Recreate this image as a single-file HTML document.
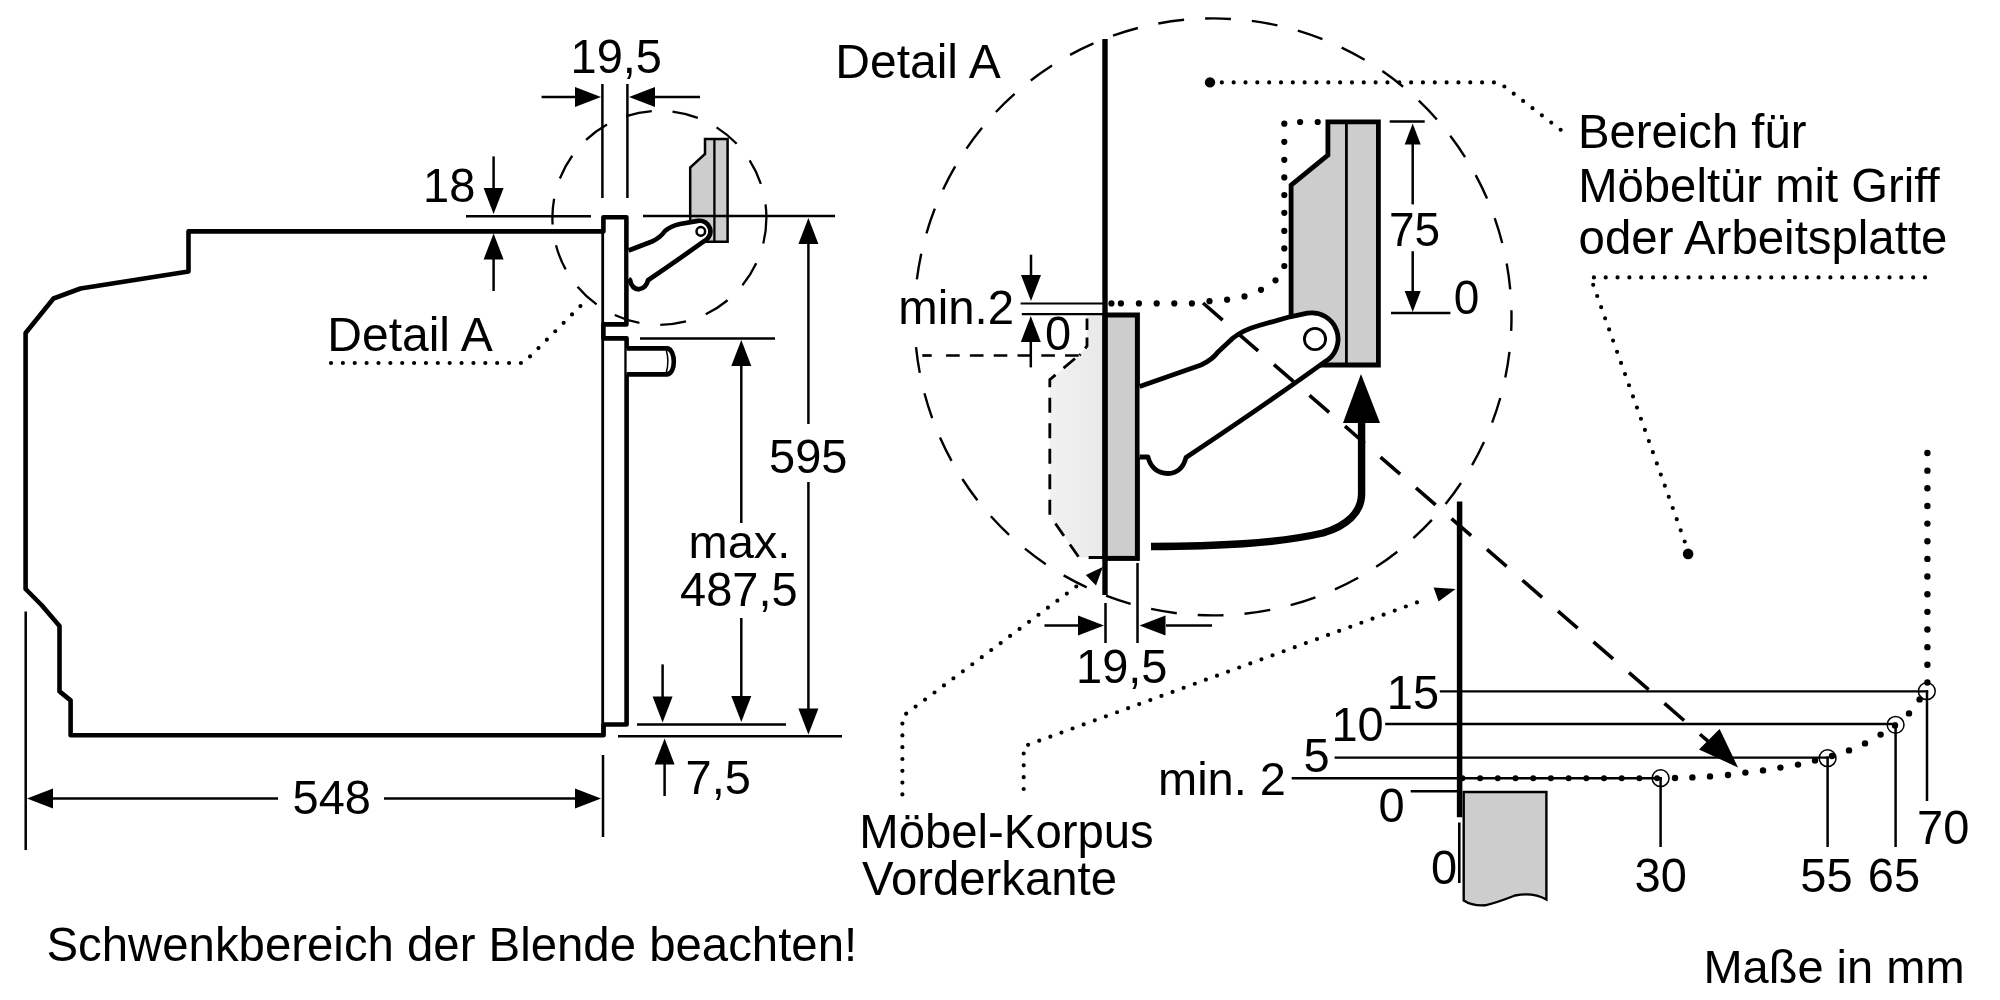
<!DOCTYPE html>
<html lang="de"><head><meta charset="utf-8"><title>Einbauskizze</title>
<style>html,body{margin:0;padding:0;background:#fff}svg{display:block;will-change:transform;transform:translateZ(0)}text{font-family:"Liberation Sans",Arial,sans-serif;fill:#000}</style>
</head><body>
<svg width="2000" height="1000" viewBox="0 0 2000 1000">
<rect width="2000" height="1000" fill="#fff"/>
<line x1="602.7" y1="233" x2="602.7" y2="735" stroke="#000" stroke-width="2.8" />
<path d="M603.4,231.4 L188.5,231.4 L188.5,271.5 L80.5,288.5 L53.5,298.5 L25.6,333 L25.6,589 L41.5,605 L59.5,626 L59.5,691.4 L70.6,700.4 L70.6,735.2 L603.6,735.2 L603.6,724.5 L626.6,724.5 L626.6,338.4 L603.4,338.4 L603.4,324.4 L626.4,324.4 L626.4,217.3 L603.4,217.3 Z" fill="none" stroke="#000" stroke-width="4.6" stroke-linejoin="round"/>
<path d="M626.6,348.4 L667,348.4 C672,349 673.8,356 673.8,361.4 C673.8,367 672,374 667,374.4 L626.6,374.4" fill="#fff" stroke="#000" stroke-width="4.6" stroke-linejoin="round"/>
<path d="M666.3,350.5 Q669.5,361.4 666.3,372.3" fill="none" stroke="#000" stroke-width="1.5" />
<circle cx="659.4" cy="217.8" r="107" fill="none" stroke="#000" stroke-width="2.3" stroke-dasharray="26 21"/>
<path d="M705,139 L727.6,139 L727.6,241.8 L690.2,241.8 L690.2,167.5 L705,154 Z" fill="#cdcdcd" stroke="#000" stroke-width="2.5" />
<line x1="714.4" y1="139" x2="714.4" y2="242" stroke="#000" stroke-width="2.3" />
<path d="M628.6,250.5 L652,241.5 Q660,238 665,231 Q671,226 680,224 L698,220.9 A10.6,10.6 0 0 1 704.8,240.7 Q678,259.8 648,280.3 Q646,288 638.8,289.3 Q631.8,289 630,280 L628.6,279" fill="#fff" stroke="#000" stroke-width="4.7" stroke-linejoin="round"/>
<circle cx="700.8" cy="231.4" r="4.3" fill="#fff" stroke="#000" stroke-width="2.5"/>
<line x1="602.4" y1="84" x2="602.4" y2="198" stroke="#000" stroke-width="2.5" />
<line x1="627.4" y1="84" x2="627.4" y2="198" stroke="#000" stroke-width="2.5" />
<line x1="541.6" y1="97" x2="576" y2="97" stroke="#000" stroke-width="2.5" />
<polygon points="601.0,97.0 575.0,107.0 575.0,87.0" fill="#000"/>
<line x1="654" y1="97" x2="700" y2="97" stroke="#000" stroke-width="2.5" />
<polygon points="629.0,97.0 655.0,87.0 655.0,107.0" fill="#000"/>
<text transform="translate(570.5,73) scale(1,1.04)" font-size="47">19,5</text>
<line x1="466" y1="216.2" x2="591" y2="216.2" stroke="#000" stroke-width="2.5" />
<line x1="493.6" y1="156.4" x2="493.6" y2="190" stroke="#000" stroke-width="2.5" />
<polygon points="493.6,214.0 483.6,188.0 503.6,188.0" fill="#000"/>
<line x1="493.6" y1="258" x2="493.6" y2="291" stroke="#000" stroke-width="2.5" />
<polygon points="493.6,233.5 503.6,259.5 483.6,259.5" fill="#000"/>
<text transform="translate(423,202) scale(1,1.04)" font-size="47">18</text>
<text x="327.3" y="351" font-size="48" text-anchor="start" >Detail A</text>
<path d="M331,363 L523.5,363 L581.5,305" fill="none" stroke="#000" stroke-width="4.2" stroke-linecap="round" stroke-dasharray="0 11.87" />
<line x1="643" y1="216" x2="835" y2="216" stroke="#000" stroke-width="2.5" />
<line x1="618" y1="736.2" x2="842" y2="736.2" stroke="#000" stroke-width="2.5" />
<line x1="808.4" y1="243" x2="808.4" y2="424" stroke="#000" stroke-width="2.5" />
<polygon points="808.4,218.0 818.4,244.0 798.4,244.0" fill="#000"/>
<line x1="808.4" y1="482" x2="808.4" y2="709" stroke="#000" stroke-width="2.5" />
<polygon points="808.4,734.5 798.4,708.5 818.4,708.5" fill="#000"/>
<text transform="translate(769,472.7) scale(1,1.04)" font-size="47">595</text>
<line x1="640" y1="338.4" x2="775" y2="338.4" stroke="#000" stroke-width="2.5" />
<line x1="637" y1="724.4" x2="786" y2="724.4" stroke="#000" stroke-width="2.5" />
<line x1="741.3" y1="366" x2="741.3" y2="523" stroke="#000" stroke-width="2.5" />
<polygon points="741.3,340.0 751.3,366.0 731.3,366.0" fill="#000"/>
<line x1="741.3" y1="618" x2="741.3" y2="696" stroke="#000" stroke-width="2.5" />
<polygon points="741.3,722.0 731.3,696.0 751.3,696.0" fill="#000"/>
<text x="688.5" y="558" font-size="47" text-anchor="start" >max.</text>
<text transform="translate(680,605.6) scale(1,1.04)" font-size="47">487,5</text>
<line x1="662.6" y1="664.4" x2="662.6" y2="697" stroke="#000" stroke-width="2.5" />
<polygon points="662.6,722.5 652.6,696.5 672.6,696.5" fill="#000"/>
<line x1="664.6" y1="764" x2="664.6" y2="796" stroke="#000" stroke-width="2.5" />
<polygon points="664.6,738.5 674.6,764.5 654.6,764.5" fill="#000"/>
<text transform="translate(685.5,794) scale(1,1.04)" font-size="47">7,5</text>
<line x1="25.7" y1="611.5" x2="25.7" y2="850" stroke="#000" stroke-width="2.5" />
<line x1="603" y1="755" x2="603" y2="837" stroke="#000" stroke-width="2.5" />
<line x1="52" y1="798.5" x2="278" y2="798.5" stroke="#000" stroke-width="2.5" />
<polygon points="27.0,798.5 53.0,788.5 53.0,808.5" fill="#000"/>
<line x1="384" y1="798.5" x2="576" y2="798.5" stroke="#000" stroke-width="2.5" />
<polygon points="601.0,798.5 575.0,808.5 575.0,788.5" fill="#000"/>
<text transform="translate(292.5,814.4) scale(1,1.04)" font-size="47">548</text>
<text x="46.5" y="961.3" font-size="47.35" text-anchor="start" >Schwenkbereich der Blende beachten!</text>
<text x="835.3" y="77.6" font-size="48" text-anchor="start" >Detail A</text>
<circle cx="1213" cy="316.9" r="298.5" fill="none" stroke="#000" stroke-width="2.4" stroke-dasharray="26 21" stroke-dashoffset="11.9"/>
<defs><linearGradient id="lg" x1="0" x2="1" y1="0" y2="0"><stop offset="0" stop-color="#f1f1f1"/><stop offset="1" stop-color="#e9e9e9"/></linearGradient></defs>
<path d="M1087,315 L1105,315 L1105,557.5 L1079,557.5 L1049.8,515.5 L1049.8,379.7 L1075,358.5 L1087,347 Z" fill="url(#lg)"/>
<path d="M1087,318.4 L1087,346 L1079.5,355.3" fill="none" stroke="#000" stroke-width="2.8" stroke-dasharray="11.5 7.5"/>
<path d="M1075,358.5 L1049.8,379.7 L1049.8,515.5 L1079,557.5 L1103,557.5" fill="none" stroke="#000" stroke-width="2.8" stroke-dasharray="15 10.5"/>
<line x1="922.3" y1="355.5" x2="931.7" y2="355.5" stroke="#000" stroke-width="2.7" />
<line x1="946.1" y1="355.5" x2="1079" y2="355.5" stroke="#000" stroke-width="2.7" stroke-dasharray="13.6 10.2"/>
<rect x="1105" y="315" width="32.4" height="243.4" fill="#cdcdcd" stroke="#000" stroke-width="5"/>
<line x1="1105" y1="39" x2="1105" y2="595" stroke="#000" stroke-width="5.4" />
<line x1="1020.6" y1="303.5" x2="1104" y2="303.5" stroke="#000" stroke-width="2.2" />
<line x1="1021.8" y1="314.2" x2="1104" y2="314.2" stroke="#000" stroke-width="2.2" />
<line x1="1031" y1="254.7" x2="1031" y2="276" stroke="#000" stroke-width="2.5" />
<polygon points="1031.0,301.0 1021.0,275.0 1041.0,275.0" fill="#000"/>
<line x1="1030.8" y1="340" x2="1030.8" y2="367.4" stroke="#000" stroke-width="2.5" />
<polygon points="1030.8,316.0 1040.8,342.0 1020.8,342.0" fill="#000"/>
<rect x="897" y="286" width="119" height="44" fill="#fff"/>
<text x="898.3" y="324" font-size="47.3" text-anchor="start" >min.2</text>
<text transform="translate(1045,350.4) scale(1,1.04)" font-size="47">0</text>
<circle cx="1111.4" cy="303.4" r="3.1" fill="#000"/>
<circle cx="1120.9" cy="303.4" r="3.1" fill="#000"/>
<circle cx="1138.9" cy="303.4" r="3.1" fill="#000"/>
<circle cx="1156.7" cy="303.4" r="3.1" fill="#000"/>
<circle cx="1174.3" cy="303.4" r="3.1" fill="#000"/>
<circle cx="1191.9" cy="303.4" r="3.1" fill="#000"/>
<circle cx="1209.5" cy="301.2" r="3.1" fill="#000"/>
<circle cx="1227.1" cy="299.7" r="3.1" fill="#000"/>
<circle cx="1244.5" cy="296.4" r="3.1" fill="#000"/>
<circle cx="1261" cy="289.8" r="3.1" fill="#000"/>
<circle cx="1275.5" cy="280.3" r="3.1" fill="#000"/>
<circle cx="1284.3" cy="266" r="3.1" fill="#000"/>
<circle cx="1284.3" cy="248.4" r="3.1" fill="#000"/>
<circle cx="1284.3" cy="230.9" r="3.1" fill="#000"/>
<circle cx="1284.3" cy="212.8" r="3.1" fill="#000"/>
<circle cx="1284.3" cy="195" r="3.1" fill="#000"/>
<circle cx="1284.3" cy="177.4" r="3.1" fill="#000"/>
<circle cx="1284.3" cy="159.8" r="3.1" fill="#000"/>
<circle cx="1284.3" cy="141.8" r="3.1" fill="#000"/>
<circle cx="1284.3" cy="123.7" r="3.1" fill="#000"/>
<circle cx="1300.1" cy="122" r="3.1" fill="#000"/>
<circle cx="1317.7" cy="122" r="3.1" fill="#000"/>
<path d="M1327.9,121.8 L1378.4,121.8 L1378.4,365 L1320,365 L1291.1,340 L1291.1,185.2 L1327.9,155 Z" fill="#cdcdcd" stroke="#000" stroke-width="4.8" />
<line x1="1346.4" y1="121" x2="1346.4" y2="365" stroke="#000" stroke-width="2.8" />
<line x1="1389.7" y1="121.6" x2="1424.7" y2="121.6" stroke="#000" stroke-width="2.5" />
<line x1="1391" y1="312.9" x2="1450.4" y2="312.9" stroke="#000" stroke-width="2.5" />
<line x1="1412.7" y1="144" x2="1412.7" y2="204.4" stroke="#000" stroke-width="2.5" />
<polygon points="1412.7,123.5 1420.7,144.5 1404.7,144.5" fill="#000"/>
<line x1="1412.7" y1="251.2" x2="1412.7" y2="293" stroke="#000" stroke-width="2.5" />
<polygon points="1412.7,312.0 1404.7,291.0 1420.7,291.0" fill="#000"/>
<text transform="translate(1389,246.4) scale(1,1.04)" font-size="46">75</text>
<text transform="translate(1453.7,314.3) scale(1,1.04)" font-size="46">0</text>
<path d="M1139.6,386.5 L1201,365 Q1212,360 1218,352 L1233,338 Q1243,330 1259,325.5 L1290,316.8 L1307.5,313.2 A26.2,26.2 0 0 1 1324.3,362.1 Q1265,405 1186,457.5 Q1182,473 1168,473.5 Q1152,473 1148,457 L1139.6,457" fill="#fff" stroke="#000" stroke-width="4.8" stroke-linejoin="round"/>
<circle cx="1315" cy="339" r="10.6" fill="#fff" stroke="#000" stroke-width="2.8"/>
<path d="M1151,546.5 C1215,546.3 1275,544 1323,533 C1347,526 1361.6,512 1361.6,494 L1361.6,420" fill="none" stroke="#000" stroke-width="7.4" />
<polygon points="1361,374 1343,423 1380,423" fill="#000"/>
<line x1="1105.5" y1="603" x2="1105.5" y2="643" stroke="#000" stroke-width="2.5" />
<line x1="1137.5" y1="563" x2="1137.5" y2="643" stroke="#000" stroke-width="2.5" />
<line x1="1044.5" y1="625.5" x2="1080" y2="625.5" stroke="#000" stroke-width="2.5" />
<polygon points="1104.0,625.5 1078.0,635.5 1078.0,615.5" fill="#000"/>
<line x1="1166" y1="625.5" x2="1212" y2="625.5" stroke="#000" stroke-width="2.5" />
<polygon points="1139.5,625.5 1165.5,615.5 1165.5,635.5" fill="#000"/>
<text transform="translate(1076,683.2) scale(1,1.04)" font-size="47">19,5</text>
<text x="859.3" y="848" font-size="47.3" text-anchor="start" >Möbel-Korpus</text>
<text x="862" y="894.7" font-size="47.3" text-anchor="start" >Vorderkante</text>
<path d="M902.4,794.4 L902.4,716.5 L1077.1,585.9" fill="none" stroke="#000" stroke-width="4.2" stroke-linecap="round" stroke-dasharray="0 11.8" />
<polygon points="1102.8,567 1085.8,575.1 1096,585.4" fill="#000"/>
<path d="M1023.7,789 L1023.7,746.4 L1427.4,598.6" fill="none" stroke="#000" stroke-width="4.2" stroke-linecap="round" stroke-dasharray="0 11.83" />
<polygon points="1455.6,589 1433.6,587.6 1438.6,601.6" fill="#000"/>
<line x1="1203" y1="303" x2="1712" y2="744.7" stroke="#000" stroke-width="3.6" stroke-dasharray="26 21"/>
<polygon points="1738,767.4 1699,749.6 1719.6,729" fill="#000"/>
<path d="M1210,82.4 L1499,82.4 L1561.5,130.4" fill="none" stroke="#000" stroke-width="4.2" stroke-linecap="round" stroke-dasharray="0 11.83" />
<circle cx="1210" cy="82.4" r="5.2" fill="#000"/>
<text x="1578" y="148.4" font-size="47.25" text-anchor="start" >Bereich für</text>
<text x="1578.2" y="201.6" font-size="47.25" text-anchor="start" >Möbeltür mit Griff</text>
<text x="1578.6" y="254.4" font-size="47.4" text-anchor="start" >oder Arbeitsplatte</text>
<path d="M1925,277.4 L1593.9,277.4" fill="none" stroke="#000" stroke-width="4.2" stroke-linecap="round" stroke-dasharray="0 11.825" />
<path d="M1684.7,541.5 L1593.2,284.8" fill="none" stroke="#000" stroke-width="4.2" stroke-linecap="round" stroke-dasharray="0 11.848" />
<circle cx="1688.1" cy="553.9" r="5.3" fill="#000"/>
<circle cx="1927.4" cy="453.0" r="3.2" fill="#000"/>
<circle cx="1927.4" cy="470.65" r="3.2" fill="#000"/>
<circle cx="1927.4" cy="488.3" r="3.2" fill="#000"/>
<circle cx="1927.4" cy="505.95" r="3.2" fill="#000"/>
<circle cx="1927.4" cy="523.6" r="3.2" fill="#000"/>
<circle cx="1927.4" cy="541.25" r="3.2" fill="#000"/>
<circle cx="1927.4" cy="558.9" r="3.2" fill="#000"/>
<circle cx="1927.4" cy="576.55" r="3.2" fill="#000"/>
<circle cx="1927.4" cy="594.2" r="3.2" fill="#000"/>
<circle cx="1927.4" cy="611.85" r="3.2" fill="#000"/>
<circle cx="1927.4" cy="629.5" r="3.2" fill="#000"/>
<circle cx="1927.4" cy="647.15" r="3.2" fill="#000"/>
<circle cx="1927.4" cy="664.8" r="3.2" fill="#000"/>
<circle cx="1927.4" cy="682.45" r="3.2" fill="#000"/>
<line x1="1459.6" y1="501.6" x2="1459.6" y2="817.3" stroke="#000" stroke-width="5.5" />
<line x1="1439.8" y1="691.4" x2="1928.2" y2="691.4" stroke="#000" stroke-width="2.4" />
<line x1="1385.2" y1="724" x2="1896.8" y2="724" stroke="#000" stroke-width="2.4" />
<line x1="1334.6" y1="757.6" x2="1828.8" y2="757.6" stroke="#000" stroke-width="2.4" />
<line x1="1291.7" y1="778.2" x2="1661.8" y2="778.2" stroke="#000" stroke-width="2.4" />
<line x1="1410.7" y1="791.3" x2="1458" y2="791.3" stroke="#000" stroke-width="2.4" />
<circle cx="1462.4" cy="778.2" r="3.0" fill="#000"/>
<circle cx="1480.1000000000001" cy="778.2" r="3.0" fill="#000"/>
<circle cx="1497.8000000000002" cy="778.2" r="3.0" fill="#000"/>
<circle cx="1515.5" cy="778.2" r="3.0" fill="#000"/>
<circle cx="1533.2" cy="778.2" r="3.0" fill="#000"/>
<circle cx="1550.9" cy="778.2" r="3.0" fill="#000"/>
<circle cx="1568.6000000000001" cy="778.2" r="3.0" fill="#000"/>
<circle cx="1586.3000000000002" cy="778.2" r="3.0" fill="#000"/>
<circle cx="1604.0" cy="778.2" r="3.0" fill="#000"/>
<circle cx="1621.7" cy="778.2" r="3.0" fill="#000"/>
<circle cx="1639.4" cy="778.2" r="3.0" fill="#000"/>
<circle cx="1657.1000000000001" cy="778.2" r="3.0" fill="#000"/>
<circle cx="1675" cy="778" r="3.2" fill="#000"/>
<circle cx="1692.4" cy="777.4" r="3.2" fill="#000"/>
<circle cx="1710" cy="776.4" r="3.2" fill="#000"/>
<circle cx="1728" cy="775" r="3.2" fill="#000"/>
<circle cx="1745.4" cy="772.6" r="3.2" fill="#000"/>
<circle cx="1763" cy="770.4" r="3.2" fill="#000"/>
<circle cx="1780.4" cy="767.6" r="3.2" fill="#000"/>
<circle cx="1798" cy="764.6" r="3.2" fill="#000"/>
<circle cx="1815" cy="760.6" r="3.2" fill="#000"/>
<circle cx="1832" cy="756" r="3.2" fill="#000"/>
<circle cx="1849" cy="750.4" r="3.2" fill="#000"/>
<circle cx="1865" cy="743.4" r="3.2" fill="#000"/>
<circle cx="1880.6" cy="734.6" r="3.2" fill="#000"/>
<circle cx="1895" cy="725.4" r="3.2" fill="#000"/>
<circle cx="1909" cy="713.4" r="3.2" fill="#000"/>
<circle cx="1919.6" cy="699.4" r="3.2" fill="#000"/>
<circle cx="1660.6" cy="778.2" r="8.4" fill="none" stroke="#000" stroke-width="1.5"/>
<circle cx="1827.6" cy="758.2" r="8.4" fill="none" stroke="#000" stroke-width="1.5"/>
<circle cx="1895.6" cy="724.8" r="8.4" fill="none" stroke="#000" stroke-width="1.5"/>
<circle cx="1926.8" cy="691.2" r="8.4" fill="none" stroke="#000" stroke-width="1.5"/>
<line x1="1660.6" y1="777" x2="1660.6" y2="847" stroke="#000" stroke-width="2.5" />
<line x1="1827.6" y1="756.4" x2="1827.6" y2="847" stroke="#000" stroke-width="2.5" />
<line x1="1895.6" y1="722.8" x2="1895.6" y2="847" stroke="#000" stroke-width="2.5" />
<line x1="1927" y1="690.2" x2="1927" y2="801" stroke="#000" stroke-width="2.5" />
<path d="M1463.7,792 L1546.4,792 L1546.4,899.5 Q1533,892 1515,895.5 Q1496,903 1485,905.3 Q1472,906 1463.7,900.5 Z" fill="#cdcdcd" stroke="#000" stroke-width="2.4" />
<line x1="1459.3" y1="822.5" x2="1459.3" y2="883" stroke="#000" stroke-width="2.6" />
<text transform="translate(1386.8,709.4) scale(1,1.04)" font-size="47">15</text>
<text transform="translate(1331.4,741.4) scale(1,1.04)" font-size="47">10</text>
<text transform="translate(1303.6,771.8) scale(1,1.04)" font-size="47">5</text>
<text x="1158" y="794.6" font-size="47" text-anchor="start" >min. 2</text>
<text transform="translate(1378.6,821.7) scale(1,1.04)" font-size="47">0</text>
<text transform="translate(1431,884) scale(1,1.04)" font-size="47">0</text>
<text transform="translate(1634.5,892) scale(1,1.04)" font-size="47">30</text>
<text transform="translate(1800.3,892) scale(1,1.04)" font-size="47">55</text>
<text transform="translate(1867.8,892) scale(1,1.04)" font-size="47">65</text>
<text transform="translate(1917,843.6) scale(1,1.04)" font-size="47">70</text>
<text x="1703.4" y="983" font-size="47" text-anchor="start" >Maße in mm</text>
</svg>
</body></html>
